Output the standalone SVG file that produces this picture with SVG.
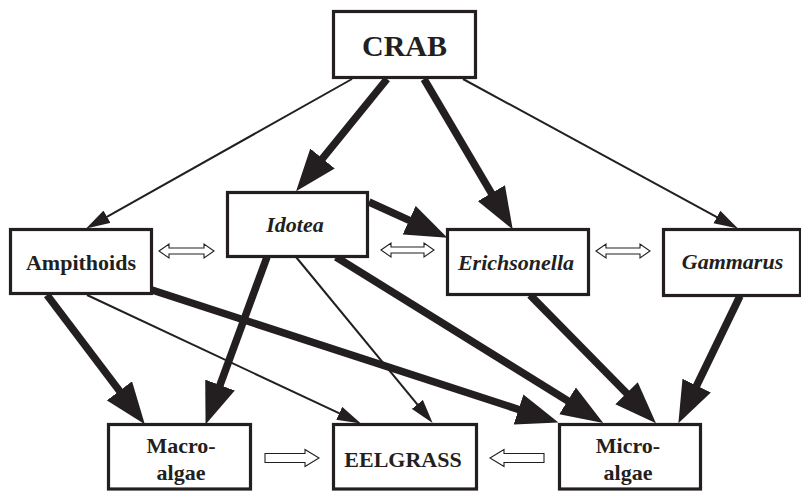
<svg xmlns="http://www.w3.org/2000/svg" width="801" height="491" viewBox="0 0 801 491">
<defs>
<style>
.box{fill:#fff;stroke:#231f20;stroke-width:3.2}
.lbl{font-family:"Liberation Serif","Times New Roman",serif;font-weight:bold;font-size:22px;fill:#231f20;text-anchor:middle}
.it{font-style:italic}
.thick{stroke:#231f20;stroke-width:7.5;fill:none;marker-end:url(#hb)}
.thin{stroke:#231f20;stroke-width:2;fill:none;marker-end:url(#hs)}
.hollow{fill:#fff;stroke:#231f20;stroke-width:1.1;stroke-linejoin:miter}
</style>
<marker id="hb" markerUnits="userSpaceOnUse" markerWidth="42" markerHeight="32" viewBox="0 0 40 30" refX="10" refY="15" orient="auto">
<path d="M0,0 L40,15 L0,30 z" fill="#231f20"/>
</marker>
<marker id="hs" markerUnits="userSpaceOnUse" markerWidth="24" markerHeight="15" viewBox="0 0 22 13" refX="10" refY="6.5" orient="auto">
<path d="M0,0 L22,6.5 L0,13 z" fill="#231f20"/>
</marker>
</defs>
<rect width="801" height="491" fill="#fff"/>
<g id="connectors">
<line class="thin" x1="352" y1="79" x2="97.5" y2="222.1"/>
<line class="thick" x1="387" y1="79" x2="315.9" y2="166.7"/>
<line class="thick" x1="424" y1="79" x2="496.7" y2="202.2"/>
<line class="thin" x1="463" y1="79" x2="726.5" y2="222.3"/>
<line class="thick" x1="369" y1="202" x2="418.7" y2="224.6"/>
<line class="thick" x1="47" y1="295" x2="125.8" y2="399.2"/>
<line class="thick" x1="267" y1="257" x2="216.4" y2="394.9"/>
<line class="thin" x1="87" y1="295" x2="349.1" y2="417.9"/>
<line class="thick" x1="152" y1="290" x2="528.5" y2="412.7"/>
<line class="thin" x1="296" y1="257" x2="424.3" y2="412.8"/>
<line class="thick" x1="336" y1="257" x2="576.5" y2="406.3"/>
<line class="thick" x1="530" y1="295" x2="633.9" y2="400.7"/>
<line class="thick" x1="740" y1="296" x2="692.1" y2="395"/>
<polygon class="hollow" points="159,251 169,244 169,248 204,248 204,244 214,251 204,258 204,254 169,254 169,258"/>
<polygon class="hollow" points="381,250 391,243 391,247 424,247 424,243 434,250 424,257 424,253 391,253 391,257"/>
<polygon class="hollow" points="596,251 606,244 606,248 640,248 640,244 650,251 640,258 640,254 606,254 606,258"/>
<polygon class="hollow" points="265,453.5 305,453.5 305,449.5 319,458 305,466.5 305,462.5 265,462.5"/>
<polygon class="hollow" points="544,453.5 504,453.5 504,449.5 490,458 504,466.5 504,462.5 544,462.5"/>
</g>
<g id="crab">
<rect class="box" x="333.5" y="11.5" width="142" height="66"/>
<text class="lbl" x="404.5" y="56" style="font-size:30px">CRAB</text>
</g>
<g id="idotea">
<rect class="box" x="227.5" y="192.5" width="140" height="64"/>
<text class="lbl it" x="295" y="232">Idotea</text>
</g>
<g id="ampithoids">
<rect class="box" x="10.5" y="229.5" width="141" height="64"/>
<text class="lbl" x="81" y="270">Ampithoids</text>
</g>
<g id="erichsonella">
<rect class="box" x="447.5" y="229.5" width="141" height="65"/>
<text class="lbl it" x="516" y="270">Erichsonella</text>
</g>
<g id="gammarus">
<rect class="box" x="663.5" y="229.5" width="137" height="66"/>
<text class="lbl it" x="732.5" y="268.5">Gammarus</text>
</g>
<g id="macroalgae">
<rect class="box" x="108.5" y="424.5" width="142" height="64.5"/>
<text class="lbl" x="181" y="453">Macro-</text>
<text class="lbl" x="181" y="480">algae</text>
</g>
<g id="eelgrass">
<rect class="box" x="333.5" y="424.5" width="143" height="64.5"/>
<text class="lbl" x="403" y="466.5">EELGRASS</text>
</g>
<g id="microalgae">
<rect class="box" x="559.5" y="424.5" width="141" height="64.5"/>
<text class="lbl" x="628" y="453">Micro-</text>
<text class="lbl" x="628" y="480">algae</text>
</g>
</svg>
